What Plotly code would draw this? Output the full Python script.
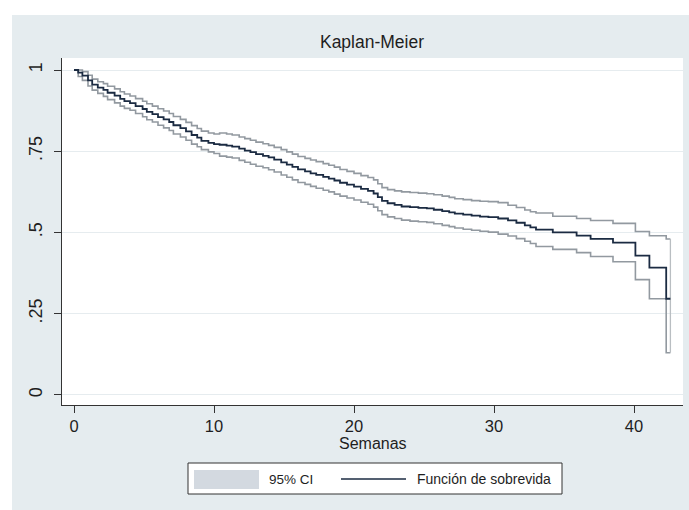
import plotly.graph_objects as go

# ---- data ----
weeks = [0, 0.3, 0.6, 1.0, 1.3, 1.7, 2.1, 2.4, 2.9, 3.3, 3.6, 4.0, 4.4, 4.9, 5.2, 5.6, 6.0, 6.4, 6.8, 7.1,
         7.6, 8.0, 8.4, 8.8, 9.1, 9.6, 10.0,
         10.4, 10.9, 11.3, 11.8, 12.2, 12.6, 13.0, 13.5, 13.9, 14.3, 14.8, 15.2, 15.6, 16.0, 16.5, 16.9,
         17.3, 17.8, 18.2, 18.6, 19.0, 19.5, 20.0,
         20.5, 21.0, 21.4, 21.7, 22.0, 22.4, 22.9, 23.4, 24.0, 24.6, 25.2, 25.7, 26.3, 26.8, 27.2, 27.8,
         28.4, 29.0, 29.6,
         30.3, 31.0, 31.6, 32.2, 32.6, 33.0, 34.2, 35.9, 36.9, 38.5, 40.1, 41.1, 42.3, 42.6]

survival = [1.000, 0.992, 0.983, 0.968, 0.955, 0.946, 0.939, 0.930, 0.921, 0.911, 0.904, 0.898, 0.889, 0.880,
            0.871, 0.864, 0.855, 0.848, 0.840, 0.830, 0.821, 0.811, 0.800, 0.792, 0.782, 0.776, 0.772,
            0.770, 0.767, 0.764, 0.758, 0.752, 0.747, 0.741, 0.736, 0.731, 0.724, 0.716, 0.709, 0.702, 0.694,
            0.688, 0.682, 0.677, 0.671, 0.666, 0.660, 0.653, 0.647, 0.641,
            0.634, 0.628, 0.620, 0.609, 0.597, 0.590, 0.585, 0.580, 0.578, 0.576, 0.574, 0.570, 0.566, 0.562,
            0.558, 0.555, 0.552, 0.549, 0.547,
            0.543, 0.537, 0.530, 0.522, 0.516, 0.509, 0.500, 0.490, 0.480, 0.469, 0.429, 0.392, 0.296, 0.296]

ci_upper = [1.000, 1.000, 0.995, 0.984, 0.972, 0.964, 0.958, 0.950, 0.942, 0.933, 0.926, 0.920, 0.912, 0.904,
            0.896, 0.889, 0.881, 0.874, 0.866, 0.857, 0.848, 0.839, 0.829, 0.820, 0.812, 0.806, 0.803,
            0.806, 0.803, 0.800, 0.794, 0.789, 0.784, 0.778, 0.773, 0.768, 0.762, 0.755, 0.748, 0.741, 0.734,
            0.728, 0.723, 0.718, 0.712, 0.707, 0.701, 0.694, 0.688, 0.682,
            0.675, 0.669, 0.662, 0.650, 0.638, 0.632, 0.628, 0.625, 0.623, 0.621, 0.619, 0.616, 0.612, 0.608,
            0.604, 0.601, 0.598, 0.596, 0.595,
            0.592, 0.584, 0.577, 0.569, 0.564, 0.560, 0.550, 0.543, 0.537, 0.528, 0.503, 0.490, 0.480, 0.480]

ci_lower = [1.000, 0.980, 0.968, 0.951, 0.938, 0.928, 0.919, 0.909, 0.899, 0.889, 0.882, 0.876, 0.866, 0.856,
            0.847, 0.840, 0.830, 0.822, 0.814, 0.803, 0.794, 0.784, 0.772, 0.764, 0.755, 0.748, 0.743,
            0.735, 0.732, 0.729, 0.722, 0.716, 0.710, 0.704, 0.699, 0.693, 0.686, 0.677, 0.670, 0.662, 0.654,
            0.648, 0.642, 0.636, 0.630, 0.625, 0.618, 0.612, 0.606, 0.600,
            0.593, 0.587, 0.578, 0.567, 0.555, 0.548, 0.543, 0.538, 0.535, 0.533, 0.531, 0.527, 0.522, 0.518,
            0.514, 0.510, 0.507, 0.504, 0.501,
            0.495, 0.489, 0.481, 0.473, 0.466, 0.457, 0.448, 0.438, 0.426, 0.410, 0.355, 0.296, 0.130, 0.130]

x_ticks = [0, 10, 20, 30, 40]
y_ticks = [0, 0.25, 0.5, 0.75, 1]
y_tick_labels = ["0", ".25", ".5", ".75", "1"]

title_text = "Kaplan-Meier"
x_title = "Semanas"
legend_labels = ["95% CI", "Función de sobrevida"]

# ---- styling ----
W, H = 689, 510
ML, MR, MT, MB = 62, 6, 58, 105
PW, PH = W - ML - MR, H - MT - MB
BG = "#e5ecef"
NAVY = "#1b2b42"
CI_GREY = "#9299a0"
FONT = "Liberation Sans, Arial, sans-serif"
TXT = "#1e1e1e"


def px(xp):
    return (xp - ML) / PW


def py(yp):
    return (H - MB - yp) / PH


fig = go.Figure()

fig.add_trace(go.Scatter(x=weeks, y=ci_upper, mode="lines", line=dict(color=CI_GREY, width=1.6, shape="hv"),
                         showlegend=False, hoverinfo="skip"))
fig.add_trace(go.Scatter(x=weeks, y=ci_lower, mode="lines", line=dict(color=CI_GREY, width=1.6, shape="hv"),
                         showlegend=False, hoverinfo="skip"))
# closing edge of the CI band at the last time
fig.add_trace(go.Scatter(x=[weeks[-1], weeks[-1]], y=[ci_upper[-1], ci_lower[-1]], mode="lines",
                         line=dict(color="#b9bec2", width=1.3), showlegend=False, hoverinfo="skip"))
fig.add_trace(go.Scatter(x=weeks, y=survival, mode="lines", line=dict(color=NAVY, width=1.8, shape="hv"),
                         showlegend=False))

shapes = [
    # white strips outside the grey graph region
    dict(type="rect", xref="paper", yref="paper", x0=px(-5), x1=px(W + 5), y0=py(15), y1=py(-5),
         fillcolor="white", line=dict(width=0), layer="below"),
    dict(type="rect", xref="paper", yref="paper", x0=px(-5), x1=px(12), y0=py(H + 5), y1=py(-5),
         fillcolor="white", line=dict(width=0), layer="below"),
    # legend box
    dict(type="rect", xref="paper", yref="paper", x0=px(188), x1=px(562), y0=py(494), y1=py(463),
         fillcolor="white", line=dict(color="#333333", width=1)),
    dict(type="rect", xref="paper", yref="paper", x0=px(194), x1=px(259), y0=py(489), y1=py(470),
         fillcolor="#d3d9e0", line=dict(width=0)),
    dict(type="line", xref="paper", yref="paper", x0=px(341), x1=px(406), y0=py(479), y1=py(479),
         line=dict(color=NAVY, width=1.6)),
]

annotations = [
    dict(text=legend_labels[0], xref="paper", yref="paper", x=px(267), y=py(479), xanchor="left",
         yanchor="middle", showarrow=False, font=dict(family=FONT, size=13.5, color=TXT)),
    dict(text=legend_labels[1], xref="paper", yref="paper", x=px(415), y=py(479), xanchor="left",
         yanchor="middle", showarrow=False, font=dict(family=FONT, size=14, color=TXT)),
    dict(text=x_title, xref="paper", yref="paper", x=0.5, y=py(443), xanchor="center",
         yanchor="middle", showarrow=False, font=dict(family=FONT, size=16, color=TXT)),
]

fig.update_layout(
    width=W, height=H,
    margin=dict(l=ML, r=MR, t=MT, b=MB, pad=0),
    paper_bgcolor=BG, plot_bgcolor="white",
    title=dict(text=title_text, x=px(372), xref="paper", xanchor="center", y=1 - 42 / H, yanchor="middle",
               font=dict(family=FONT, size=17.5, color=TXT)),
    shapes=shapes, annotations=annotations,
    xaxis=dict(range=[-0.857, 43.5], tickvals=x_ticks, ticks="outside", ticklen=7, tickcolor="#333333",
               tickwidth=1, showgrid=False, zeroline=False, showline=True, linecolor="#333333", linewidth=1,
               tickfont=dict(family=FONT, size=16.5, color=TXT), fixedrange=True, ticklabelstandoff=-1),
    yaxis=dict(range=[-0.031, 1.037], tickvals=y_ticks, ticktext=y_tick_labels, ticks="outside", ticklen=7,
               tickcolor="#333333", tickwidth=1, tickangle=-90, showgrid=True, gridcolor="#e6ecef",
               gridwidth=1.2, zeroline=False, showline=True, linecolor="#333333", linewidth=1,
               tickfont=dict(family=FONT, size=18, color=TXT), ticklabelstandoff=5, fixedrange=True),
    showlegend=False,
)

fig.write_html("out.html", config={"displayModeBar": False},
               post_script="document.body.style.margin='0';document.body.style.overflow='hidden';")
